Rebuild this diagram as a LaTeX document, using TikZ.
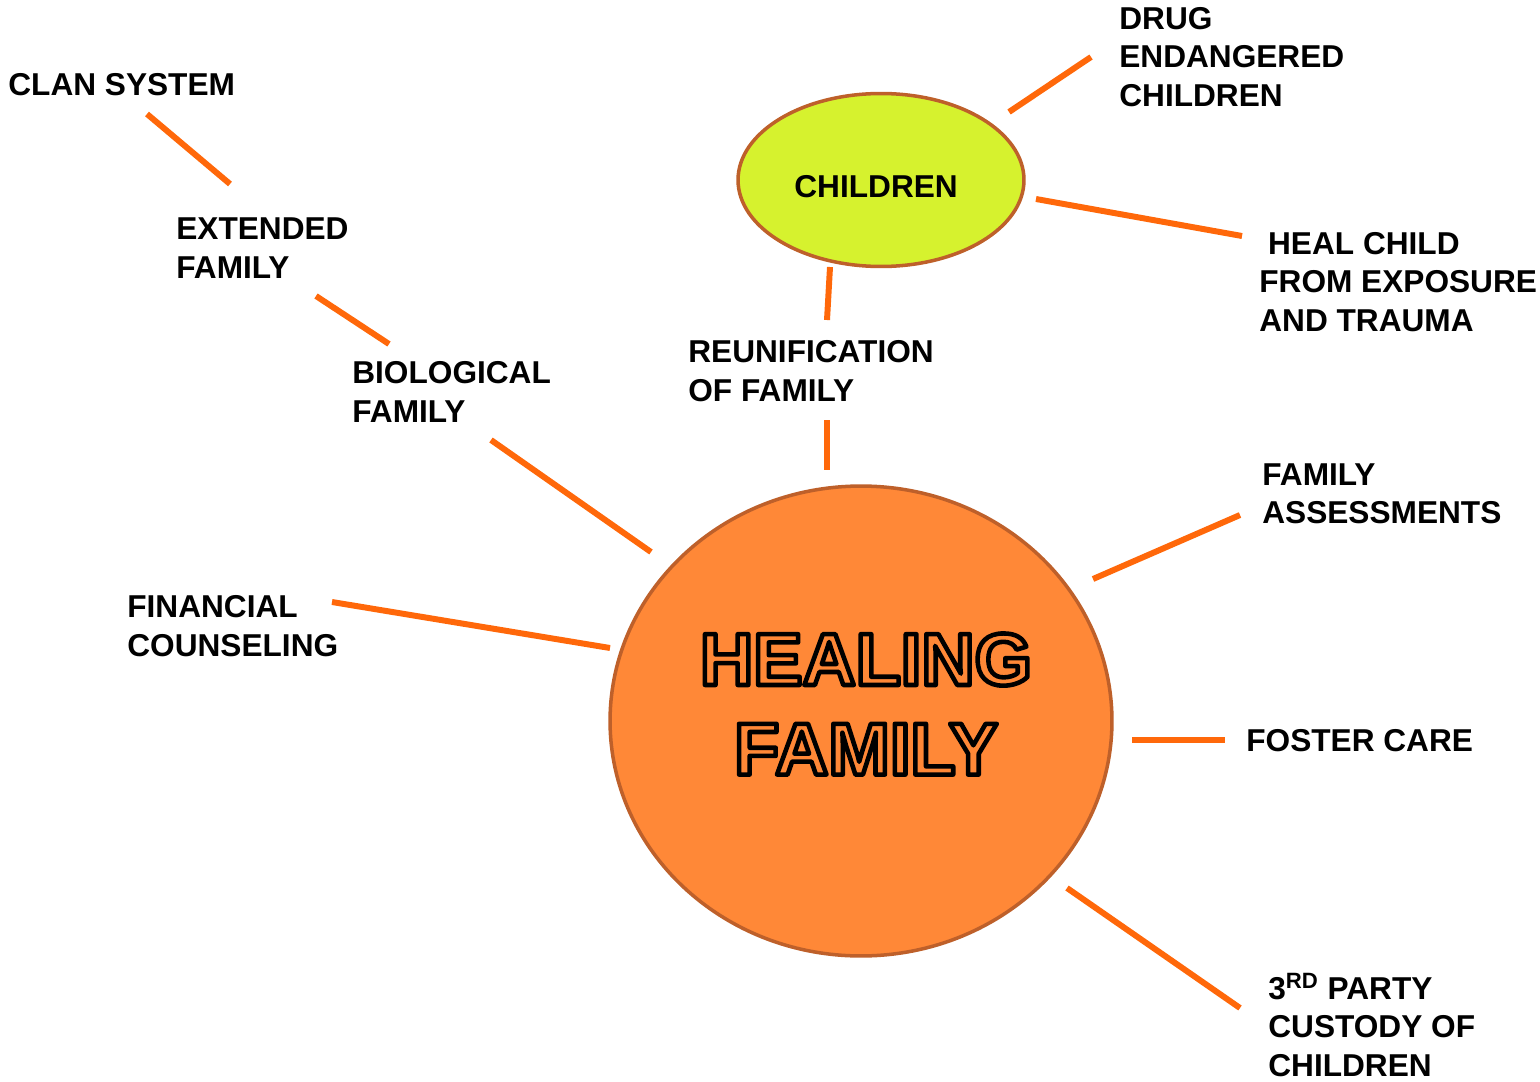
\documentclass[tikz,border=0pt]{standalone}
\usepackage{fontspec}
\setmainfont{Liberation Sans}
\usepackage{tikz}
\usetikzlibrary{shapes.geometric}
\definecolor{linkorange}{RGB}{255,104,10}
\definecolor{hubfill}{RGB}{255,136,55}
\definecolor{hubedge}{RGB}{190,96,42}
\definecolor{kidfill}{RGB}{214,242,46}
\newcommand{\hollowtext}[1]{\special{pdf:literal direct 0 0 0 RG 1 Tr 1 j 2.6 w}#1\special{pdf:literal direct 0 Tr}}

\begin{document}
\begin{tikzpicture}[x=0.02cm,y=-0.02cm,
    lbl/.style={anchor=west,align=left,inner sep=0pt,font=\fontsize{18}{21.9}\selectfont\bfseries},
    link/.style={draw=linkorange,line width=3.4pt}]
  \useasboundingbox (0,0) rectangle (1540,1081);
  \node[ellipse,draw=hubedge,fill=kidfill,line width=2pt,minimum width=5.72cm,minimum height=3.46cm,
        font=\fontsize{18}{21.9}\selectfont\bfseries](kids)at(881,180){\raisebox{-9.9pt}[0pt][0pt]{\makebox[0pt]{\hspace*{-5.6pt}CHILDREN}}};
  \node[lbl](clan)at(8,85){CLAN SYSTEM};
  \node[lbl](ext)at(176,248){EXTENDED\\FAMILY};
  \node[lbl](bio)at(352,392){BIOLOGICAL\\FAMILY};
  \node[lbl](fin)at(127,626){FINANCIAL\\COUNSELING};
  \node[lbl](reu)at(688,371){REUNIFICATION\\OF FAMILY};
  \node[lbl](drug)at(1119,57){DRUG\\ENDANGERED\\CHILDREN};
  \node[lbl](heal)at(1259,282){\hspace*{5pt}HEAL CHILD\\FROM EXPOSURE\\AND TRAUMA};
  \node[lbl](assess)at(1262,494){FAMILY\\ASSESSMENTS};
  \node[lbl](foster)at(1246,741){FOSTER CARE};
  \node[lbl](custody)at(1268,1025){3\textsuperscript{RD} PARTY\\CUSTODY OF\\CHILDREN};
  \coordinate(clan-a)at(147,114); \coordinate(clan-b)at(230,184);
  \coordinate(ext-a)at(316,296);  \coordinate(ext-b)at(389,344);
  \coordinate(bio-a)at(491,440);  \coordinate(bio-b)at(651,552);
  \coordinate(fin-a)at(332,602);  \coordinate(fin-b)at(610,648);
  \coordinate(kid-a)at(830,267);  \coordinate(kid-b)at(827,320);
  \coordinate(reu-a)at(827,420);  \coordinate(reu-b)at(827,470);
  \coordinate(drug-a)at(1009,112); \coordinate(drug-b)at(1091,57);
  \coordinate(heal-a)at(1036,199); \coordinate(heal-b)at(1242,236);
  \coordinate(ass-a)at(1093,579); \coordinate(ass-b)at(1240,515);
  \coordinate(fos-a)at(1132,740); \coordinate(fos-b)at(1225,740);
  \coordinate(cus-a)at(1067,888); \coordinate(cus-b)at(1240,1008);
  \draw[link](clan-a)--(clan-b);
  \draw[link](ext-a)--(ext-b);
  \draw[link](bio-a)--(bio-b);
  \draw[link](fin-a)--(fin-b);
  \draw[link](kid-a)--(kid-b);
  \draw[link](reu-a)--(reu-b);
  \draw[link](drug-a)--(drug-b);
  \draw[link](heal-a)--(heal-b);
  \draw[link](ass-a)--(ass-b);
  \draw[link](fos-a)--(fos-b);
  \draw[link](cus-a)--(cus-b);
  \node[ellipse,draw=hubedge,fill=hubfill,line width=2pt,minimum width=10.04cm,minimum height=9.4cm](hub)at(861,721){};
  \node[align=center,inner sep=0pt,font=\fontsize{42}{51}\selectfont\bfseries](hubtext)at(866,704){\hollowtext{HEALING}\\\hollowtext{FAMILY}};
\end{tikzpicture}
\end{document}
